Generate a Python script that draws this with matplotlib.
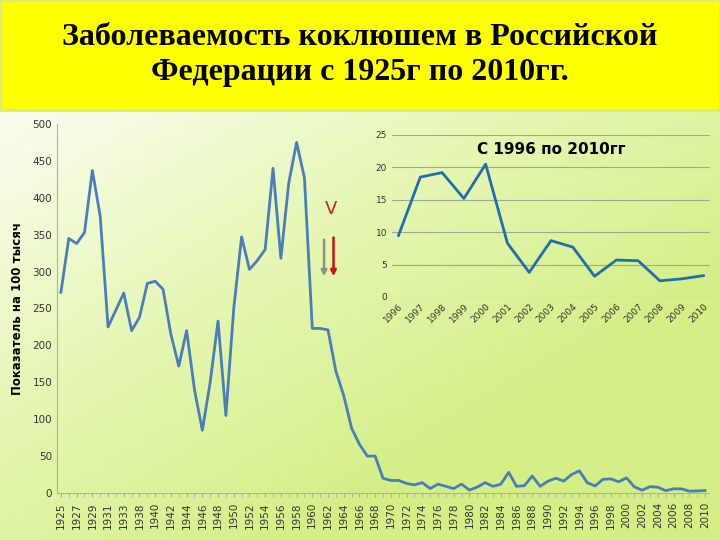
import numpy as np
import matplotlib
matplotlib.use("Agg")
import matplotlib.pyplot as plt
from matplotlib.colors import LinearSegmentedColormap

years = [1925,1926,1927,1928,1929,1930,1931,1932,1933,1937] + list(range(1938, 2011))
values = [272,345,338,353,437,375,225,248,271,220,
          238,284,287,276,215,172,220,140,85,150,
          233,105,250,347,303,315,330,440,318,420,
          475,427,223,223,221,165,132,88,66,50,
          50,20,17,17,13,11,14,6,12,9,
          6,12,4,8,14,9,12,28,9,10,
          23,9,16,20,16,25,30,14,9.5,18.5,
          19.2,15.2,20.5,8.3,3.8,8.7,7.7,3.2,5.7,5.6,
          2.5,2.8,3.3]
inset_years = list(range(1996, 2011))
inset_values = [9.5,18.5,19.2,15.2,20.5,8.3,3.8,8.7,7.7,3.2,5.7,5.6,2.5,2.8,3.3]

title = "Заболеваемость коклюшем в Российской\nФедерации с 1925г по 2010гг."
ylabel = "Показатель на 100 тысяч"
inset_title = "С 1996 по 2010гг"

line_color = "#4a7ebb"
fig = plt.figure(figsize=(7.2, 5.4), dpi=100)

# background gradient
bg = fig.add_axes([0, 0, 1, 1 - 112/540])
cmap = LinearSegmentedColormap.from_list("g", ["#fafdf0", "#e6f7b4", "#d3ef86"])
xx, yy = np.meshgrid(np.linspace(0, 1, 200), np.linspace(0, 1, 200))
grad = np.clip(xx * 0.7 + yy * 0.7, 0, 1)
bg.imshow(grad, cmap=cmap, aspect="auto", extent=[0, 1, 0, 1], origin="upper")
bg.axis("off")

# title band
tb = fig.add_axes([0, 1 - 110/540, 1, 110/540])
tb.set_facecolor("#ffff00")
tb.set_xticks([]); tb.set_yticks([])
for s in tb.spines.values():
    s.set_color("#d8e88a"); s.set_linewidth(2)
tb.text(0.5, 0.5, title, ha="center", va="center", fontsize=23, fontweight="bold",
        family="Liberation Serif", linespacing=1.25, color="black")

# main axes
ax = fig.add_axes([57/720, 1 - 493/540, (709 - 57)/720, (493 - 124)/540])
ax.patch.set_alpha(0)
x = np.arange(len(years))
ax.plot(x, values, color=line_color, lw=2)
ax.set_xlim(-0.5, len(years) - 0.5)
ax.set_ylim(0, 500)
ax.set_yticks(range(0, 501, 50))
ax.set_xticks(x[::2])
ax.set_xticklabels([str(y) for y in years[::2]], rotation=90, fontsize=7.5, color="#333333")
ax.set_xticks(x, minor=True)
ax.tick_params(axis="y", labelsize=7.5, colors="#333333", length=0)
ax.tick_params(axis="x", which="both", length=3, color="#aaaaaa")
for s in ["top", "right"]:
    ax.spines[s].set_visible(False)
ax.spines["left"].set_color("#b0b0b0")
ax.spines["bottom"].set_color("#b0b0b0")
ax.set_ylabel(ylabel, fontsize=8.5, fontweight="bold", labelpad=6)

# arrows and V
ax.annotate("", xy=(33.5, 290), xytext=(33.5, 347),
            arrowprops=dict(arrowstyle="-|>", color="#909080", lw=1.8, mutation_scale=8))
ax.annotate("", xy=(34.7, 290), xytext=(34.7, 350),
            arrowprops=dict(arrowstyle="-|>", color="#cc1111", lw=1.8, mutation_scale=8))
ax.text(34.4, 385, "V", color="#cc2222", fontsize=13, ha="center", va="center")

# inset
ai = fig.add_axes([392/720, 1 - 297/540, (710 - 392)/720, (297 - 135)/540])
ai.patch.set_alpha(0)
xi = np.arange(len(inset_years))
ai.plot(xi, inset_values, color="#1f6fae", lw=2)
ai.set_ylim(0, 25)
ai.set_xlim(-0.3, len(inset_years) - 0.7)
ai.set_yticks(range(0, 26, 5))
ai.grid(axis="y", color="#a0a890", lw=0.8)
ai.set_xticks(xi)
ai.set_xticklabels([str(y) for y in inset_years], rotation=45, ha="right",
                   rotation_mode="anchor", fontsize=6.5, color="#333333")
ai.tick_params(length=0, labelsize=6.5, colors="#333333")
for s in ai.spines.values():
    s.set_visible(False)
ai.set_title(inset_title, fontsize=11, fontweight="bold", y=0.83)

fig.savefig("out.png", dpi=100)
